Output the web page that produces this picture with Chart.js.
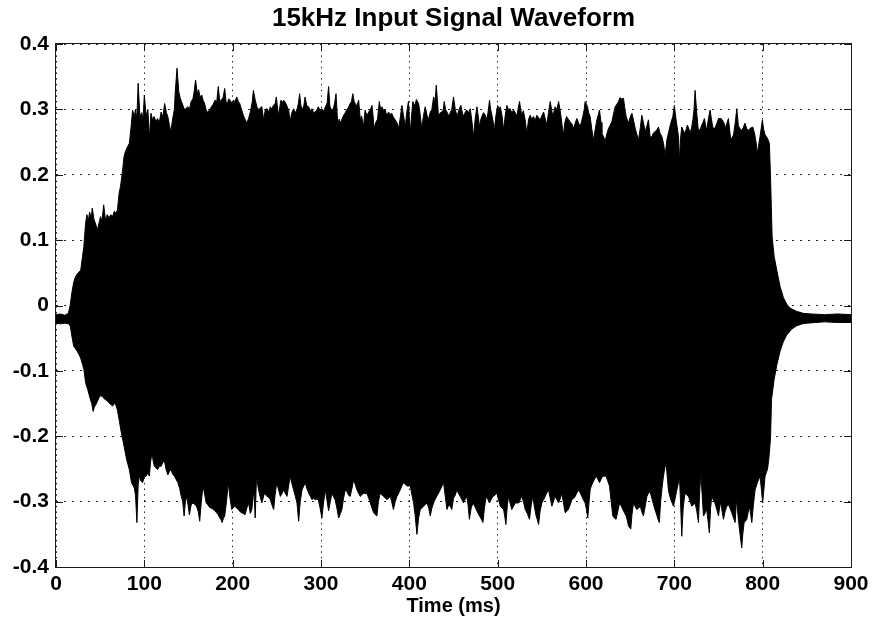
<!DOCTYPE html>
<html>
<head>
<meta charset="utf-8">
<script src="https://cdn.jsdelivr.net/npm/chart.js@4/dist/chart.umd.min.js"></script>
<style>
  html, body { margin: 0; padding: 0; background: #fff; }
  #wrap { width: 876px; height: 630px; }
</style>
</head>
<body>
<div id="wrap"><canvas id="c" width="876" height="630"></canvas></div>
<script>
// Upper envelope of the recorded waveform: time (ms) and amplitude
const upperTime = [0,5,10,14,16,18,20,22,25,28,30,31.5,33.5,35,36.5,38,40,41,43,45,47,49,50.5,52,54,56,58,60,62,64,66,68,69.5,71.5,73,75,77,78.5,80,83,85,86.7,88.6,90,91.5,93,95,97,98.5,100,102,104,105.7,107.5,109,111,113,115,117,119,121,123,125,126.6,128.5,130,132,134,135,137,139,140.5,142,144,145.6,147.5,149.4,151,153,155,156.5,158,160,161.5,163,165,166.5,168,170,172,174,176,178,180,182,183.7,185.5,187,189,191,192.5,194,195.5,197,199,200.8,202.5,204.6,206.5,208,210,212,214,216,218,220,222,223.5,225.6,227.5,229.4,231,233,235,237,239,241,242.6,244.5,246,248,249.4,251,252,253.5,254.7,256,257.7,259.5,261.5,263.4,265,267,269,271,272.8,274.5,275.8,277,278.5,280.5,282,284,286,288,289.8,291.5,293.6,295.5,297,299,301,303,305,307,308.6,310,312,314,315.5,317,319,320.5,322,324,325.6,327.5,329,331,333,334.5,336,337.5,338.8,340.5,342.6,344.5,346,348,350,352,354,356,357.7,359,360,362,364,366,367.5,369,371,372.8,374.5,376.5,378,380,382,384,386,388,390,391.6,393.5,395.4,397,399,401,402.5,404,406,408,410.5,412,414,416,418,420,422,423.7,425.5,427.5,429,430.5,432,433,435,437,438.5,439.5,441,442.6,444.5,446,448,450,452,454,456,458.4,460,461.4,463,465,467,469,471,472.7,474.5,476.5,478,479.5,481,482,484,486,488,490.8,492,493.5,495,496,498,500,501.5,503,505,506.7,508.5,510.4,512,514,516,518,520,521.7,523,524.8,526,527.4,529,531,533,535,536.8,538.5,540.6,542.5,544.4,546,548,550,552,554,555.7,557.5,559.5,561,562.5,564,565,567,569,570.5,571.5,573,574.6,576,578,580,582,584,586,588,589.6,591.5,593.4,595,596.4,598,599,600.5,601.7,603,604.7,606.5,608.5,610.5,612.3,614,615.3,617,618,620,621.7,623.5,625.5,627.5,629.3,631,633,635,636.8,638.5,640,642.5,644,645.5,647,648,650,652,654,655.7,657.5,659.4,661.5,663.2,665,667,669,670.7,672.6,674.5,676,678,680,682,684,686,687.7,689.6,691.5,693.5,696,698.3,700,702,703.5,704.7,705.8,707,708.4,710,712,713.5,714.8,716.5,717.9,719.5,721,722.3,723.5,725.4,727,729,731,732.5,734,735.5,736.7,738.5,740.5,742,743.5,745.5,748,750,753,755.6,758,761.2,763.9,767,769,770.7,772.5,774.5,776.3,778,780,782,784,785.8,788.8,791,792.5,794,797,799.7,801,802.7,805.4,807.6,809,810.7,813,816,819.7,823.5,827.3,831,838.6,846,855,870,885,900];
const upperAmp = [-0.014,-0.013,-0.015,-0.012,0.000,0.020,0.035,0.044,0.050,0.054,0.075,0.090,0.126,0.139,0.128,0.143,0.134,0.149,0.132,0.124,0.116,0.128,0.136,0.128,0.154,0.130,0.139,0.134,0.139,0.136,0.144,0.141,0.146,0.172,0.182,0.202,0.228,0.235,0.240,0.248,0.273,0.299,0.289,0.300,0.285,0.340,0.289,0.295,0.285,0.322,0.290,0.300,0.256,0.294,0.285,0.289,0.282,0.286,0.280,0.296,0.288,0.309,0.295,0.289,0.275,0.266,0.285,0.300,0.327,0.363,0.327,0.318,0.312,0.305,0.299,0.302,0.304,0.300,0.312,0.316,0.328,0.345,0.324,0.330,0.319,0.322,0.314,0.310,0.299,0.295,0.300,0.304,0.308,0.314,0.312,0.335,0.310,0.315,0.317,0.332,0.312,0.309,0.316,0.314,0.310,0.314,0.312,0.319,0.312,0.309,0.300,0.291,0.285,0.279,0.286,0.296,0.310,0.329,0.314,0.304,0.299,0.302,0.304,0.284,0.300,0.301,0.296,0.304,0.300,0.306,0.308,0.319,0.300,0.291,0.305,0.314,0.310,0.314,0.311,0.305,0.299,0.281,0.295,0.301,0.295,0.299,0.310,0.324,0.308,0.299,0.305,0.319,0.305,0.304,0.298,0.301,0.295,0.296,0.300,0.304,0.298,0.301,0.297,0.304,0.310,0.335,0.305,0.299,0.301,0.310,0.324,0.276,0.285,0.279,0.286,0.291,0.295,0.299,0.303,0.309,0.312,0.324,0.312,0.309,0.305,0.314,0.284,0.290,0.273,0.299,0.290,0.296,0.300,0.306,0.290,0.271,0.280,0.285,0.312,0.300,0.304,0.298,0.299,0.290,0.296,0.292,0.294,0.288,0.284,0.280,0.271,0.290,0.306,0.290,0.273,0.295,0.312,0.263,0.290,0.312,0.305,0.315,0.309,0.295,0.271,0.290,0.304,0.291,0.285,0.296,0.300,0.319,0.310,0.337,0.310,0.289,0.295,0.296,0.300,0.312,0.300,0.296,0.290,0.294,0.300,0.319,0.300,0.289,0.299,0.306,0.295,0.289,0.295,0.299,0.295,0.301,0.280,0.258,0.285,0.304,0.290,0.273,0.285,0.289,0.295,0.291,0.284,0.314,0.300,0.291,0.280,0.266,0.290,0.306,0.300,0.304,0.290,0.268,0.290,0.306,0.300,0.301,0.295,0.299,0.295,0.289,0.300,0.312,0.300,0.291,0.298,0.285,0.263,0.285,0.291,0.285,0.289,0.283,0.291,0.288,0.284,0.290,0.296,0.285,0.276,0.295,0.312,0.300,0.289,0.298,0.304,0.300,0.312,0.300,0.291,0.275,0.261,0.280,0.289,0.285,0.281,0.278,0.271,0.280,0.286,0.280,0.273,0.282,0.289,0.300,0.312,0.308,0.304,0.295,0.289,0.270,0.253,0.270,0.284,0.292,0.299,0.280,0.263,0.258,0.251,0.262,0.271,0.276,0.281,0.292,0.304,0.308,0.312,0.318,0.316,0.317,0.300,0.289,0.283,0.279,0.288,0.294,0.282,0.271,0.262,0.253,0.272,0.291,0.280,0.266,0.275,0.284,0.258,0.258,0.263,0.266,0.268,0.273,0.263,0.258,0.248,0.230,0.253,0.265,0.279,0.289,0.306,0.284,0.270,0.258,0.220,0.255,0.273,0.268,0.263,0.270,0.276,0.270,0.263,0.272,0.284,0.300,0.329,0.294,0.270,0.268,0.276,0.280,0.286,0.275,0.268,0.285,0.299,0.285,0.273,0.270,0.278,0.286,0.286,0.281,0.272,0.286,0.253,0.261,0.280,0.301,0.275,0.270,0.268,0.272,0.279,0.270,0.268,0.271,0.273,0.262,0.250,0.233,0.258,0.284,0.270,0.261,0.256,0.248,0.192,0.105,0.075,0.054,0.029,0.012,0.002,-0.004,-0.009,-0.012,-0.013,-0.014,-0.013,-0.014];

// Lower envelope of the recorded waveform: time (ms) and amplitude
const lowerTime = [0,5,10,14.4,16.3,18,20,22,24,26,27.8,30,31.6,33.5,36,39,40.5,42,43.5,45,47,48.7,50.5,52.5,54,56,58,60,62,64,66,67.7,69.5,71.5,74,77,80,83,85.5,87,88.6,90,91.6,93,94.3,96,98,100,102,104,105.7,107,108.7,110,111.4,113,115,117,119,121,122.8,124.5,126.6,128.5,130.4,132,134,136,138,140,141.8,143.5,145,146.5,148,149.5,151,153,155,157,159,161,162.7,164.5,166.5,168.5,170,172,174,176,178,180,181.7,183.5,185.5,187,188,189.5,191,193,195,197,199,201,202.7,204.5,206.5,208,210,212,214,216,218,220,221.7,224,225.5,227,229,231,233,234.5,236,237.5,239,241,242.6,244.5,246.4,248,250,252,254,256,257.7,259.5,261.5,263.5,265,267,269,271,272.8,274.7,276.5,278.5,280.5,282,284,286,288,289.8,291.5,293.5,295.5,297,299,301,303,305,307,308.6,310.5,312.4,314,316,318,320,322,323.7,325.5,327.5,329.5,331,333,335,337,339,340.7,342.5,344.5,346,348,350,352,354,355.8,357.7,359.6,361.5,363.3,365,367,369,371,373,374.7,376.5,378.4,380,382,384,386,388,389.7,391.5,393.5,395.5,397.3,399,401,403,404.8,406.5,408.6,410.5,412.4,414,416,418,420,422,423.7,425.5,427.5,429,431,433,435,437,438.8,440.5,442.6,444.5,446.3,448,450,452,453.8,455.5,457.6,459.5,461.4,463,465,466.5,468,470,472,474,475.7,477.5,479.5,481.5,483.3,485,487,489,490.8,492.5,494.6,497,499,501,503,505,506.7,508,509.3,511,512.3,514,516,518,519.9,522,524,525.5,527.4,529.5,531.2,533.5,536,538,539.8,541.5,543.6,545,546.3,548,550,552,553.8,555.5,557.6,559.5,561.4,563,565,567,569,571,572.7,574.5,576.4,578,580,582,584,586,587.8,589.5,591.5,593.5,595.3,597,599,600.5,602,603.5,604.7,606,607.7,609.5,611.5,613.5,615.3,617,619,621,622.8,624.5,626.6,628.5,630.4,632,634,636,638,640,641.7,643.5,645.5,647,648,650.7,652,653.8,655.5,657.5,659.5,661.5,663,665,667,669,670.7,672.6,674.5,676,678,680,681.5,683,684.5,686,687.7,689,690.7,692,693.3,694.5,696,697.5,699,701,702.8,704.5,705.8,707,708.4,710,712,714,716,718,719.8,721.5,723.5,725.5,727.3,728.5,730,731.5,733,735,736.7,738.2,739.7,741,742.4,744,746,748,750,752,753.5,755.6,757.5,759.4,761.5,763,765,767,768.8,770.5,772,773.7,776.3,777.5,779,780.5,782,783.5,785,786.5,787.7,789.5,791.4,794,797,798.5,800,801.5,802.7,804,805.4,806.5,807.6,809,810,813,816,819.7,823.5,827.3,833,838.6,845,850,860,870,885,900];
const lowerAmp = [-0.027,-0.028,-0.027,-0.028,-0.032,-0.047,-0.062,-0.066,-0.070,-0.075,-0.080,-0.090,-0.098,-0.118,-0.129,-0.144,-0.150,-0.162,-0.155,-0.152,-0.146,-0.141,-0.138,-0.139,-0.142,-0.144,-0.146,-0.149,-0.151,-0.154,-0.150,-0.152,-0.160,-0.175,-0.195,-0.215,-0.236,-0.251,-0.271,-0.275,-0.279,-0.290,-0.332,-0.275,-0.261,-0.268,-0.271,-0.262,-0.261,-0.256,-0.261,-0.240,-0.225,-0.238,-0.246,-0.248,-0.251,-0.246,-0.246,-0.240,-0.238,-0.250,-0.259,-0.254,-0.251,-0.258,-0.261,-0.266,-0.271,-0.280,-0.292,-0.300,-0.322,-0.300,-0.292,-0.305,-0.320,-0.305,-0.302,-0.304,-0.307,-0.315,-0.330,-0.300,-0.276,-0.290,-0.302,-0.305,-0.309,-0.310,-0.312,-0.314,-0.317,-0.320,-0.325,-0.328,-0.332,-0.326,-0.322,-0.300,-0.271,-0.295,-0.312,-0.309,-0.307,-0.310,-0.312,-0.315,-0.317,-0.318,-0.320,-0.310,-0.302,-0.318,-0.312,-0.282,-0.325,-0.261,-0.280,-0.292,-0.302,-0.295,-0.287,-0.290,-0.292,-0.294,-0.297,-0.305,-0.312,-0.290,-0.271,-0.282,-0.292,-0.287,-0.282,-0.287,-0.292,-0.275,-0.261,-0.272,-0.282,-0.292,-0.302,-0.330,-0.300,-0.282,-0.276,-0.271,-0.280,-0.287,-0.292,-0.297,-0.295,-0.297,-0.296,-0.297,-0.310,-0.325,-0.300,-0.282,-0.300,-0.314,-0.300,-0.287,-0.292,-0.297,-0.310,-0.325,-0.318,-0.312,-0.295,-0.282,-0.285,-0.290,-0.292,-0.280,-0.266,-0.275,-0.282,-0.287,-0.292,-0.290,-0.287,-0.288,-0.287,-0.295,-0.302,-0.310,-0.317,-0.320,-0.322,-0.300,-0.287,-0.290,-0.292,-0.295,-0.297,-0.295,-0.292,-0.300,-0.312,-0.300,-0.292,-0.287,-0.282,-0.276,-0.271,-0.274,-0.276,-0.276,-0.276,-0.290,-0.302,-0.320,-0.350,-0.325,-0.312,-0.310,-0.307,-0.305,-0.302,-0.310,-0.322,-0.310,-0.302,-0.297,-0.292,-0.287,-0.282,-0.276,-0.271,-0.290,-0.312,-0.305,-0.307,-0.312,-0.295,-0.290,-0.282,-0.287,-0.292,-0.297,-0.302,-0.297,-0.292,-0.305,-0.327,-0.310,-0.302,-0.307,-0.312,-0.317,-0.322,-0.327,-0.332,-0.310,-0.292,-0.297,-0.302,-0.297,-0.292,-0.290,-0.287,-0.297,-0.307,-0.310,-0.312,-0.322,-0.335,-0.305,-0.292,-0.302,-0.312,-0.307,-0.302,-0.302,-0.302,-0.297,-0.292,-0.302,-0.312,-0.318,-0.327,-0.305,-0.292,-0.307,-0.322,-0.328,-0.335,-0.315,-0.302,-0.297,-0.292,-0.287,-0.282,-0.295,-0.307,-0.300,-0.292,-0.297,-0.302,-0.295,-0.287,-0.302,-0.317,-0.315,-0.312,-0.305,-0.297,-0.295,-0.292,-0.287,-0.282,-0.287,-0.292,-0.297,-0.302,-0.312,-0.325,-0.300,-0.282,-0.276,-0.271,-0.266,-0.261,-0.266,-0.271,-0.266,-0.261,-0.261,-0.261,-0.268,-0.276,-0.300,-0.322,-0.325,-0.327,-0.315,-0.302,-0.307,-0.312,-0.317,-0.322,-0.330,-0.337,-0.342,-0.320,-0.302,-0.307,-0.312,-0.310,-0.307,-0.315,-0.322,-0.307,-0.292,-0.287,-0.285,-0.295,-0.302,-0.312,-0.320,-0.327,-0.332,-0.300,-0.280,-0.261,-0.250,-0.241,-0.262,-0.282,-0.290,-0.297,-0.302,-0.307,-0.295,-0.282,-0.272,-0.261,-0.300,-0.353,-0.310,-0.287,-0.290,-0.292,-0.300,-0.307,-0.305,-0.302,-0.315,-0.332,-0.290,-0.256,-0.290,-0.322,-0.317,-0.312,-0.330,-0.348,-0.310,-0.292,-0.297,-0.302,-0.312,-0.322,-0.300,-0.310,-0.327,-0.315,-0.307,-0.305,-0.310,-0.317,-0.325,-0.332,-0.295,-0.320,-0.342,-0.371,-0.350,-0.332,-0.330,-0.327,-0.317,-0.307,-0.320,-0.332,-0.305,-0.282,-0.271,-0.261,-0.280,-0.302,-0.280,-0.261,-0.256,-0.251,-0.240,-0.225,-0.200,-0.144,-0.113,-0.091,-0.070,-0.055,-0.045,-0.036,-0.031,-0.028,-0.027,-0.026,-0.025,-0.026,-0.026];

// Axis ticks
const xTicks = [0, 100, 200, 300, 400, 500, 600, 700, 800, 900];
const yTicks = [-0.4, -0.3, -0.2, -0.1, 0, 0.1, 0.2, 0.3, 0.4];

const chartTitle = '15kHz Input Signal Waveform';
const xAxisTitle = 'Time (ms)';

const FONT = '"Liberation Sans", Arial, Helvetica, sans-serif';
const INK = '#000';

function toPoints(times, amps) {
  return times.map((t, i) => ({ x: t, y: amps[i] }));
}

// Box around the plot with short inward tick marks on all four sides
const axesBox = {
  id: 'axesBox',
  afterDatasetsDraw(chart) {
    const { ctx, chartArea: a, scales: { x, y } } = chart;
    const L = 7;
    ctx.save();
    ctx.strokeStyle = '#1a1a1a';
    ctx.lineWidth = 1;
    ctx.beginPath();
    xTicks.forEach(v => {
      const px = Math.round(x.getPixelForValue(v)) + 0.5;
      ctx.moveTo(px, a.bottom); ctx.lineTo(px, a.bottom - L);
      ctx.moveTo(px, a.top); ctx.lineTo(px, a.top + L);
    });
    yTicks.forEach(v => {
      const py = Math.round(y.getPixelForValue(v)) + 0.5;
      ctx.moveTo(a.left, py); ctx.lineTo(a.left + L, py);
      ctx.moveTo(a.right, py); ctx.lineTo(a.right - L, py);
    });
    ctx.stroke();
    ctx.strokeRect(Math.round(a.left) - 0.5, Math.round(a.top) - 0.5,
                   Math.round(a.width) + 1, Math.round(a.height) + 1);
    ctx.restore();
  }
};

new Chart(document.getElementById('c'), {
  type: 'line',
  data: {
    datasets: [
      {
        label: 'upper',
        data: toPoints(upperTime, upperAmp),
        borderColor: INK,
        backgroundColor: INK,
        borderWidth: 1,
        pointRadius: 0,
        tension: 0,
        fill: '+1'
      },
      {
        label: 'lower',
        data: toPoints(lowerTime, lowerAmp),
        borderColor: INK,
        backgroundColor: INK,
        borderWidth: 1,
        pointRadius: 0,
        tension: 0,
        fill: false
      }
    ]
  },
  options: {
    responsive: false,
    animation: false,
    devicePixelRatio: 1,
    layout: { padding: { top: 0, right: 25, bottom: 0, left: 0 } },
    plugins: {
      legend: { display: false },
      tooltip: { enabled: false },
      title: {
        display: true,
        fullSize: false, // centred over the plot box rather than the whole canvas
        text: chartTitle,
        color: INK,
        font: { family: FONT, size: 26, weight: 'bold', lineHeight: 1.2 },
        padding: { top: 3, bottom: 9.8 }
      }
    },
    scales: {
      x: {
        type: 'linear',
        min: 0,
        max: 900,
        afterBuildTicks: s => { s.ticks = xTicks.map(v => ({ value: v })); },
        afterFit: s => { s.height = 63; },
        grid: { color: '#222', lineWidth: 1, drawTicks: false },
        border: { display: false, dash: [1.5, 4.2] },
        ticks: {
          color: INK,
          padding: 5,
          maxRotation: 0,
          autoSkip: false,
          font: { family: FONT, size: 21, weight: 'bold' },
          callback: v => String(v)
        },
        title: {
          display: true,
          text: xAxisTitle,
          color: INK,
          font: { family: FONT, size: 20, weight: 'bold', lineHeight: 1.2 },
          padding: { top: 0, bottom: 11.5 }
        }
      },
      y: {
        type: 'linear',
        min: -0.4,
        max: 0.4,
        afterBuildTicks: s => { s.ticks = yTicks.map(v => ({ value: v })); },
        afterFit: s => { s.width = 56; },
        grid: { color: '#222', lineWidth: 1, drawTicks: false },
        border: { display: false, dash: [2, 6] },
        ticks: {
          color: INK,
          padding: 7,
          autoSkip: false,
          font: { family: FONT, size: 21, weight: 'bold' },
          callback: v => String(Math.round(v * 10) / 10)
        }
      }
    }
  },
  plugins: [axesBox]
});
</script>
</body>
</html>
